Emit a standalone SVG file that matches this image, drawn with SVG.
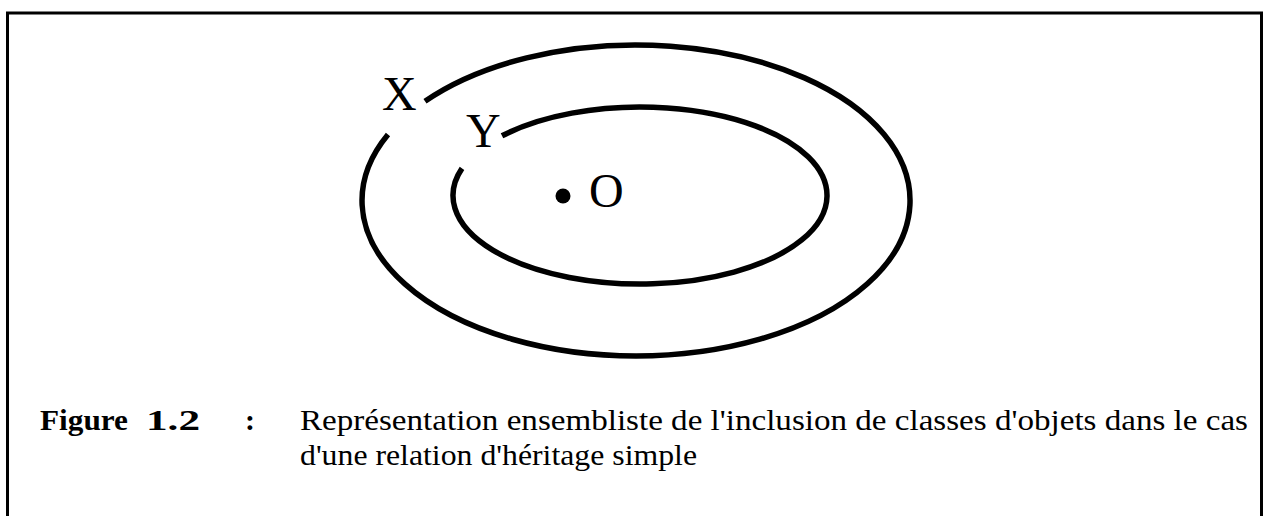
<svg xmlns="http://www.w3.org/2000/svg" width="1267" height="516" viewBox="0 0 1267 516">
<style>
.set{fill:none;stroke:#000;stroke-width:5.5;stroke-linecap:butt}
.lbl{font-family:"Liberation Serif","Times New Roman",serif;font-size:48px;fill:#000}
.cap{font-family:"Liberation Serif","Times New Roman",serif;font-size:30px;fill:#000}
.capb{font-family:"Liberation Serif","Times New Roman",serif;font-size:30px;font-weight:bold;fill:#000}
</style>
<rect x="0" y="0" width="1267" height="516" fill="#fff"/>
<path d="M7.5 519 V13 H1261.5 V519" fill="none" stroke="#000" stroke-width="3"/>
<g id="X">
<path class="set" d="M425 101.3 A274 155.5 0 1 1 388 134.4"/>
<text class="lbl" x="382" y="110">X</text>
</g>
<g id="Y">
<path class="set" d="M502 135.8 A187 88.5 0 1 1 462 168.4"/>
<text class="lbl" x="466" y="147">Y</text>
</g>
<g id="O">
<circle cx="563" cy="196" r="7.5" fill="#000"/>
<text class="lbl" x="589" y="207">O</text>
</g>
<g id="caption">
<text class="capb" x="40" y="430" textLength="88" lengthAdjust="spacingAndGlyphs">Figure</text>
<text class="capb" x="146" y="430" textLength="54" lengthAdjust="spacingAndGlyphs">1.2</text>
<text class="capb" x="245" y="430">:</text>
<text class="cap" x="300" y="430" textLength="948" lengthAdjust="spacingAndGlyphs">Représentation ensembliste de l'inclusion de classes d'objets dans le cas</text>
<text class="cap" x="300" y="465" textLength="397" lengthAdjust="spacingAndGlyphs">d'une relation d'héritage simple</text>
</g>
</svg>
